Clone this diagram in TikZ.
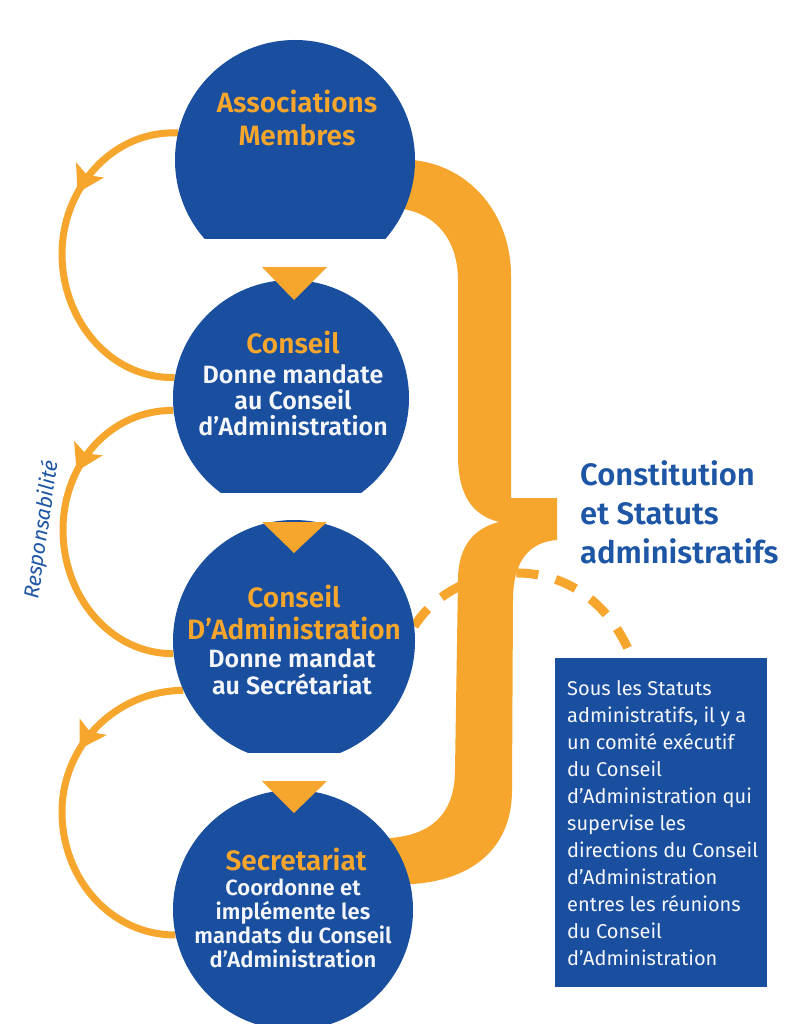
\documentclass[tikz,border=0pt]{standalone}
\usepackage{fontspec}
\setmainfont{Fira Sans}
\newfontfamily\semib{Fira Sans SemiBold}
\usetikzlibrary{arrows.meta,decorations.markings}
\definecolor{cblue}{HTML}{1A4F9F}
\definecolor{corange}{HTML}{F6A62C}
\definecolor{tblue}{HTML}{1E56A6}
\definecolor{wtext}{HTML}{F4F6FA}
\begin{document}
\begin{tikzpicture}[x=1pt,y=-1pt,
  disc/.style={circle,draw=none,inner sep=0pt,minimum size=#1},
  loopline/.style={draw=corange,line width=7pt,postaction={decorate},
    decoration={markings,mark=at position 0.33 with {\arrow[corange]{Stealth[length=26pt,width=32pt,inset=6pt,line width=0pt]}}}},
  title/.style={text=corange,font=\semib\fontsize{28}{32}\selectfont,align=center,inner sep=0pt,anchor=base},
  body/.style={text=wtext,font=\semib\fontsize{25}{26}\selectfont,align=center,inner sep=0pt,anchor=base}
]
\useasboundingbox (0,0) rectangle (785,1024);
\fill[white] (0,0) rectangle (785,1024);

% circle nodes (anchors)
\node[disc=240pt] (c1) at (295,160) {};
\node[disc=236pt] (c2) at (291,398) {};
\node[disc=242pt] (c3) at (294,641) {};
\node[disc=240pt] (c4) at (293,910) {};

% left loops
\draw[loopline] (c1.167) .. controls (113,130) and (62,188) .. (62,254) .. controls (62,320) and (110,379) .. (c2.170);
\draw[loopline] (c2.186) .. controls (110,410) and (63,464) .. (63,530) .. controls (63,596) and (110,654) .. (c3.186);
\draw[loopline] (c3.204) .. controls (115,691) and (62,746) .. (62,812) .. controls (62,878) and (110,935) .. (c4.192);

% box and dashed link
\node[fill=cblue,minimum width=212pt,minimum height=329pt,inner sep=0pt,anchor=north west] (box) at (555,658) {};
\coordinate (dend) at (632,658);
\draw[corange,line width=9pt,dash pattern=on 22pt off 18pt] (c3.7) .. controls (455,560) and (585,540) .. (dend);

% brace
\fill[corange] (360,160) -- (412,160) .. controls (470,165) and (511,215) .. (511,275)
  -- (511,498) -- (557,498) -- (557,540) .. controls (530,542) and (513,560) .. (513,600)
  -- (512,790) .. controls (512,850) and (470,880) .. (413,884) -- (360,884)
  -- (360,838) -- (390,838) .. controls (430,835) and (455,815) .. (455,770)
  -- (458,580) .. controls (458,545) and (475,528) .. (499,522)
  .. controls (472,515) and (458,495) .. (458,455)
  -- (458,280) .. controls (458,235) and (430,208) .. (390,208) -- (360,208) -- cycle;

% circles
\begin{scope}\clip (0,0) rectangle (785,238); \fill[cblue] (c1.center) circle[radius=120pt]; \end{scope}
\begin{scope}\clip (0,0) rectangle (785,492); \fill[cblue] (c2.center) circle[radius=118pt]; \end{scope}
\begin{scope}\clip (0,0) rectangle (785,752); \fill[cblue] (c3.center) circle[radius=121pt]; \end{scope}
\fill[cblue] (c4.center) circle[radius=120pt];

% triangles
\fill[corange] (262,267) -- (327,267) -- (294,300) -- cycle;
\fill[corange] (262,522) -- (327,522) -- (294,553) -- cycle;
\fill[corange] (262,781) -- (327,781) -- (294,813) -- cycle;

% texts (base anchor = baseline of last line)
\node[title,font=\semib\fontsize{28}{33}\selectfont] (t1) at (297,146) {Associations\\Membres};
\node[title] (t2a) at (293,353) {Conseil};
\node[body] (t2b) at (293,435) {Donne mandate\\au Conseil\\d’Administration};
\node[title] (t3a) at (294,639) {Conseil\\D’Administration};
\node[body,font=\semib\fontsize{25}{27}\selectfont] (t3b) at (292,694) {Donne mandat\\au Secrétariat};
\node[title] (t4a) at (296,870) {Secretariat};
\node[body,font=\semib\fontsize{22}{24}\selectfont] (t4b) at (293,967) {Coordonne et\\implémente les\\mandats du Conseil\\d’Administration};

\node[anchor=base west,align=left,inner sep=0pt,text=tblue,font=\semib\fontsize{31}{39}\selectfont] (const) at (580,563) {Constitution\\et Statuts\\administratifs};
\node[rotate=82,text=tblue,inner sep=0pt,font=\itshape\fontsize{21}{23}\selectfont] (resp) at (42,530) {Responsabilité};

\node[anchor=base west,align=left,inner sep=0pt,text=wtext,font=\fontsize{20}{27}\selectfont] (boxtxt) at (567,965) {Sous les Statuts\\administratifs, il y a\\un comité exécutif\\du Conseil\\d’Administration qui\\supervise les\\directions du Conseil\\d’Administration\\entres les réunions\\du Conseil\\d’Administration};
\end{tikzpicture}
\end{document}
